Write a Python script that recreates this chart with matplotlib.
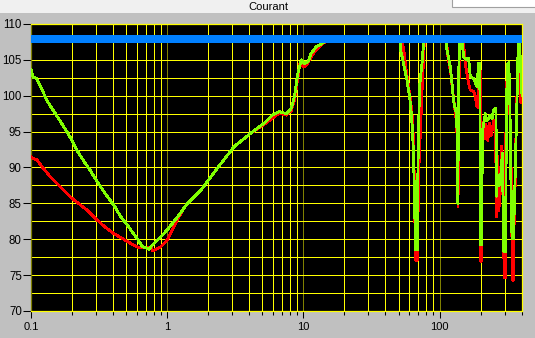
import matplotlib
matplotlib.use("Agg")
import matplotlib.pyplot as plt
from matplotlib.ticker import FixedLocator, NullFormatter
from matplotlib.patches import Rectangle

plt.rcParams["font.family"] = ["Liberation Sans", "DejaVu Sans"]

# green trace (frequency, level)
green_hz = [0.100, 0.1035, 0.110, 0.120, 0.130, 0.150, 0.175, 0.200, 0.217, 0.250,
            0.272, 0.300, 0.350, 0.405, 0.450, 0.508, 0.560, 0.603, 0.655, 0.700,
            0.733, 0.780, 0.821, 0.893, 1.00, 1.19, 1.41, 1.76, 2.27, 3.10,
            4.12, 5.32, 6.00, 6.66, 7.47, 8.13, 8.60, 9.11, 9.64, 10.2,
            10.8, 11.4, 12.4, 14.3, 16.0,
            50.8, 52.1, 54.4, 57.6, 60.2, 61.7, 63.3, 64.4, 65.8, 66.3,
            68.6, 69.4, 70.1, 71.3, 74.3, 76.3, 77.2,
            110.7, 113.4, 119.9, 123.4, 126.8, 132.7, 134.3, 135.7, 136.2, 138.0,
            140.3, 142.5,
            146.1, 150.1, 159.0, 163.3, 168.1, 177.8, 188.3, 193.5, 197.4, 200.1,
            202.5, 207.0, 216.7, 222.0, 229.1, 235.0, 242.7, 249.4, 259.8, 261.0,
            265.5, 274.5, 281.6, 288.9, 296.3, 305.3, 309.0, 314.0, 322.5, 328.3,
            334.2, 340.4, 348.0, 355.6, 362.0, 370.4, 375.0, 385.0, 396.0, 403.0]
green_db = [103.7, 102.6, 102.4, 101.0, 99.4, 97.6, 95.6, 93.8, 92.4, 90.6,
            89.6, 88.3, 86.4, 84.8, 83.3, 82.0, 80.9, 80.1, 79.0, 78.8,
            78.6, 79.2, 79.6, 80.3, 81.3, 83.1, 85.0, 86.8, 89.6, 92.9,
            94.8, 96.4, 97.4, 97.8, 97.5, 98.2, 99.9, 103.1, 105.0, 104.5,
            104.7, 105.9, 106.8, 107.5, 108.0,
            108.0, 106.1, 104.5, 102.2, 99.9, 98.0, 95.2, 91.5, 84.0, 78.5,
            78.5, 90.1, 95.2, 101.3, 104.5, 107.3, 108.0,
            108.0, 106.4, 104.0, 101.7, 99.2, 97.6, 95.2, 91.5, 85.0, 102.7,
            107.3, 108.0,
            108.0, 105.4, 105.0, 105.2, 102.7, 102.4, 101.3, 104.5, 104.5, 79.2,
            79.2, 95.2, 97.5, 96.5, 96.9, 97.3, 96.8, 98.0, 98.3, 86.0,
            88.9, 87.5, 88.9, 92.0, 78.3, 78.3, 95.0, 104.3, 104.6, 99.0,
            88.0, 80.1, 80.1, 85.5, 92.0, 99.5, 105.0, 108.0, 103.0, 100.0]

# red trace
red_hz = [0.100, 0.105, 0.110, 0.115, 0.123, 0.140, 0.155, 0.175, 0.194, 0.230,
          0.260, 0.305, 0.350, 0.405, 0.450, 0.508, 0.603, 0.700, 0.760, 0.785,
          0.840, 0.893, 0.950, 1.00, 1.12, 1.29, 1.41, 1.76, 2.27, 3.10,
          4.12, 5.32, 6.66, 7.47, 8.13, 8.60, 9.11, 9.40, 10.0, 10.6,
          11.4, 12.4, 14.0, 15.5,
          52.5, 54.5, 56.5, 59.0, 61.5, 63.0, 64.5, 65.5, 66.5, 68.4,
          69.0, 70.5, 72.5, 74.5, 76.0, 77.5,
          112.0, 115.0, 121.0, 125.0, 129.0, 133.5, 135.5, 136.5, 137.5, 139.0,
          141.0,
          149.0, 154.5, 163.3, 168.1, 177.8, 182.9, 188.3, 192.7, 195.5, 198.5,
          200.5, 202.0, 204.5, 208.0, 213.0, 219.0, 226.0, 233.0, 240.0, 250.0,
          258.0, 261.0, 264.0, 268.0, 272.0, 278.0, 285.0, 292.0, 298.0, 303.0,
          307.0, 313.0, 322.0, 330.0, 337.0, 342.0, 347.0, 352.0, 356.0, 360.0,
          368.0, 378.0, 385.0, 395.0, 403.0]
red_db = [91.5, 91.2, 91.1, 90.6, 89.9, 88.6, 87.8, 86.8, 85.9, 84.8,
          84.0, 82.7, 81.7, 80.8, 80.3, 79.7, 78.9, 78.9, 78.8, 78.4,
          78.7, 78.9, 79.4, 79.9, 81.7, 84.0, 85.0, 86.8, 89.6, 92.9,
          94.8, 96.2, 97.6, 97.3, 97.9, 99.4, 102.5, 104.5, 104.0, 104.3,
          105.4, 106.4, 107.3, 108.0,
          108.0, 106.5, 104.0, 101.5, 99.0, 97.0, 93.5, 86.0, 77.1, 77.0,
          80.0, 90.0, 95.5, 101.0, 104.5, 108.0,
          108.0, 105.5, 103.0, 100.5, 98.5, 96.0, 92.0, 84.6, 90.0, 102.0,
          108.0,
          108.0, 104.5, 101.7, 100.8, 100.6, 99.9, 98.5, 98.4, 103.5, 103.5,
          76.9, 76.9, 92.0, 96.3, 94.0, 96.0, 93.8, 96.2, 94.5, 96.5,
          96.0, 83.1, 92.0, 90.0, 84.0, 86.0, 93.0, 88.0, 74.6, 74.6,
          95.0, 103.0, 103.5, 96.0, 88.0, 74.3, 74.3, 84.0, 82.2, 90.0,
          99.0, 104.5, 106.0, 99.1, 101.0]

limit_db = 107.9
x_major = [0.1, 1, 10, 100]
x_labels = ["0.1", "1", "10", "100"]
x_minor = [k * d for d in (0.1, 1, 10, 100) for k in range(2, 10) if k * d <= 400]
y_major = [70, 75, 80, 85, 90, 95, 100, 105, 110]
y_minor = [72.5, 77.5, 82.5, 87.5, 92.5, 97.5, 102.5, 107.5]

W, H = 535, 338
fig = plt.figure(figsize=(W / 100, H / 100), dpi=100, facecolor="#c0c0c0")

# window chrome: caption strip and title
fig.patches.append(Rectangle((0, 1 - 13 / H), 1, 13 / H, transform=fig.transFigure,
                             facecolor="#f0f0f0", edgecolor="none", zorder=-1))
fig.patches.append(Rectangle((452 / W, 1 - 6.5 / H), 90 / W, 10 / H, transform=fig.transFigure,
                             facecolor="white", edgecolor="#a0a0a0", lw=0.8, zorder=0))
fig.text(268 / W, 1 - 6.5 / H, "Courant", ha="center", va="center", fontsize=8)

ax = fig.add_axes([31 / W, 1 - 311 / H, (522 - 31) / W, (311 - 24) / H])
ax.set_facecolor("black")
ax.set_xscale("log")
ax.set_xlim(0.1, 403)
ax.set_ylim(70, 110)

ax.xaxis.set_major_locator(FixedLocator(x_major))
ax.set_xticklabels(x_labels)
ax.xaxis.set_minor_locator(FixedLocator(x_minor))
ax.xaxis.set_minor_formatter(NullFormatter())
ax.yaxis.set_major_locator(FixedLocator(y_major))
ax.yaxis.set_minor_locator(FixedLocator(y_minor))

ax.tick_params(axis="x", which="major", length=4.8, width=0.75, pad=3.2, labelsize=8)
ax.tick_params(axis="x", which="minor", length=3, width=0.75)
ax.tick_params(axis="y", which="major", length=6, width=0.75, pad=0.6, labelsize=8.3)
ax.tick_params(axis="y", which="minor", length=0)

ax.set_axisbelow(True)
ax.grid(which="minor", axis="x", color="#ffff00", lw=0.5, antialiased=False)
ax.grid(which="major", axis="x", color="#808000", lw=0.5, antialiased=False)
ax.grid(which="both", axis="y", color="#ffff00", lw=0.5, antialiased=False)
for side in ("top", "right", "bottom"):
    ax.spines[side].set_color("#ffff00")
ax.spines["left"].set_color("#808000")
for sp in ax.spines.values():
    sp.set_linewidth(0.9)

ax.plot(red_hz, red_db, color="#ff0000", lw=1.3, zorder=3, antialiased=False)
ax.plot(green_hz, green_db, color="#80ff00", lw=1.3, zorder=4, antialiased=False)
ax.axhline(limit_db, color="#0080ff", lw=4.4, zorder=5, antialiased=False)

fig.savefig("out.png", dpi=100, facecolor=fig.get_facecolor())
